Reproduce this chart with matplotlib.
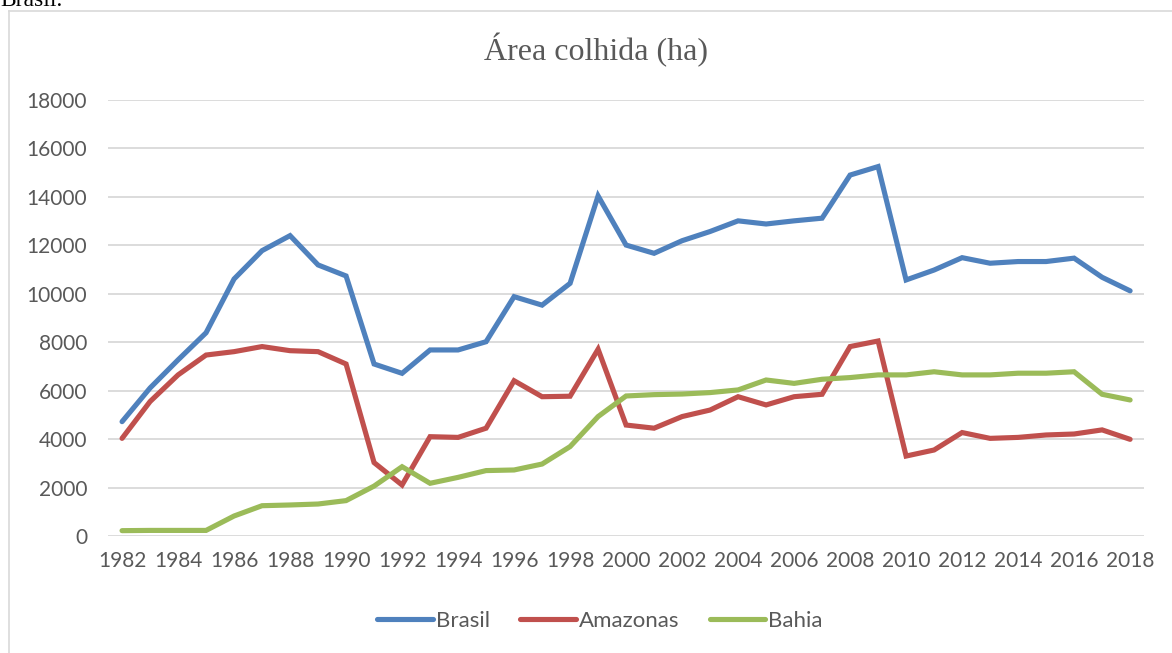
import matplotlib.pyplot as plt
from matplotlib.lines import Line2D

# dados
anos = list(range(1982, 2019))
brasil = [4720, 6110, 7270, 8390, 10610, 11780, 12400, 11190, 10735, 7100,
          6715, 7680, 7680, 8020, 9880, 9530, 10430, 14040, 12010, 11670,
          12190, 12570, 13010, 12880, 13010, 13120, 14900, 15250, 10570, 10980,
          11490, 11260, 11330, 11330, 11470, 10680, 10120]
amazonas = [4030, 5550, 6650, 7470, 7610, 7820, 7650, 7610, 7100, 3030,
            2105, 4100, 4070, 4450, 6410, 5750, 5770, 7710, 4580, 4450,
            4930, 5200, 5750, 5410, 5750, 5850, 7820, 8050, 3300, 3550,
            4270, 4030, 4070, 4170, 4210, 4380, 3990]
bahia = [220, 230, 230, 230, 825, 1250, 1280, 1320, 1460, 2060,
         2860, 2175, 2420, 2700, 2725, 2970, 3690, 4930, 5780, 5835,
         5860, 5920, 6030, 6440, 6300, 6470, 6540, 6650, 6650, 6780,
         6650, 6650, 6720, 6720, 6780, 5850, 5615]

series = [("Brasil", brasil, "#4F81BD"),
          ("Amazonas", amazonas, "#C0504D"),
          ("Bahia", bahia, "#9BBB59")]

cinza = "#595959"
plt.rcParams["font.family"] = ["Lato", "DejaVu Sans"]

fig = plt.figure(figsize=(11.72, 6.53), dpi=100)
ax = fig.add_axes([0.0922, 0.1792, 0.884, 0.6677])

for nome, vals, cor in series:
    ax.plot(anos, vals, color=cor, lw=3.7, solid_capstyle="round",
            solid_joinstyle="miter", label=nome)

ax.set_xlim(1981.5, 2018.5)
ax.set_ylim(0, 18000)
ax.set_yticks(range(0, 18001, 2000))
ax.set_xticks(range(1982, 2019, 2))
ax.grid(axis="y", color="#D9D9D9", lw=1.3)
ax.set_axisbelow(True)
for s in ax.spines.values():
    s.set_visible(False)
ax.tick_params(length=0, labelsize=15, labelcolor=cinza)
ax.tick_params(axis="y", pad=15)
ax.tick_params(axis="x", pad=11)

# título
fig.text(0.5085, 0.923, "Área colhida (ha)", family="Liberation Serif", fontsize=23,
         color=cinza, ha="center", va="center")

handles = [Line2D([], [], color=c, lw=3.7, solid_capstyle="round") for _, _, c in series]
fig.legend(handles, [n for n, _, _ in series], loc="center", bbox_to_anchor=(0.512, 0.049),
           ncol=3, frameon=False, fontsize=16, labelcolor=cinza,
           handlelength=2.5, handletextpad=0.15, columnspacing=1.35)

# moldura do gráfico (cortada à direita e embaixo)
fig.add_artist(Line2D([0.0075, 0.0075], [0, 0.983], color="#D9D9D9", lw=1.2))
fig.add_artist(Line2D([0.0075, 1.0], [0.983, 0.983], color="#D9D9D9", lw=1.2))

fig.text(0.0, 1.0, "Brasil.", family="Liberation Serif", fontsize=17,
         color="black", ha="left", va="center")

fig.savefig("out.png", dpi=100)
